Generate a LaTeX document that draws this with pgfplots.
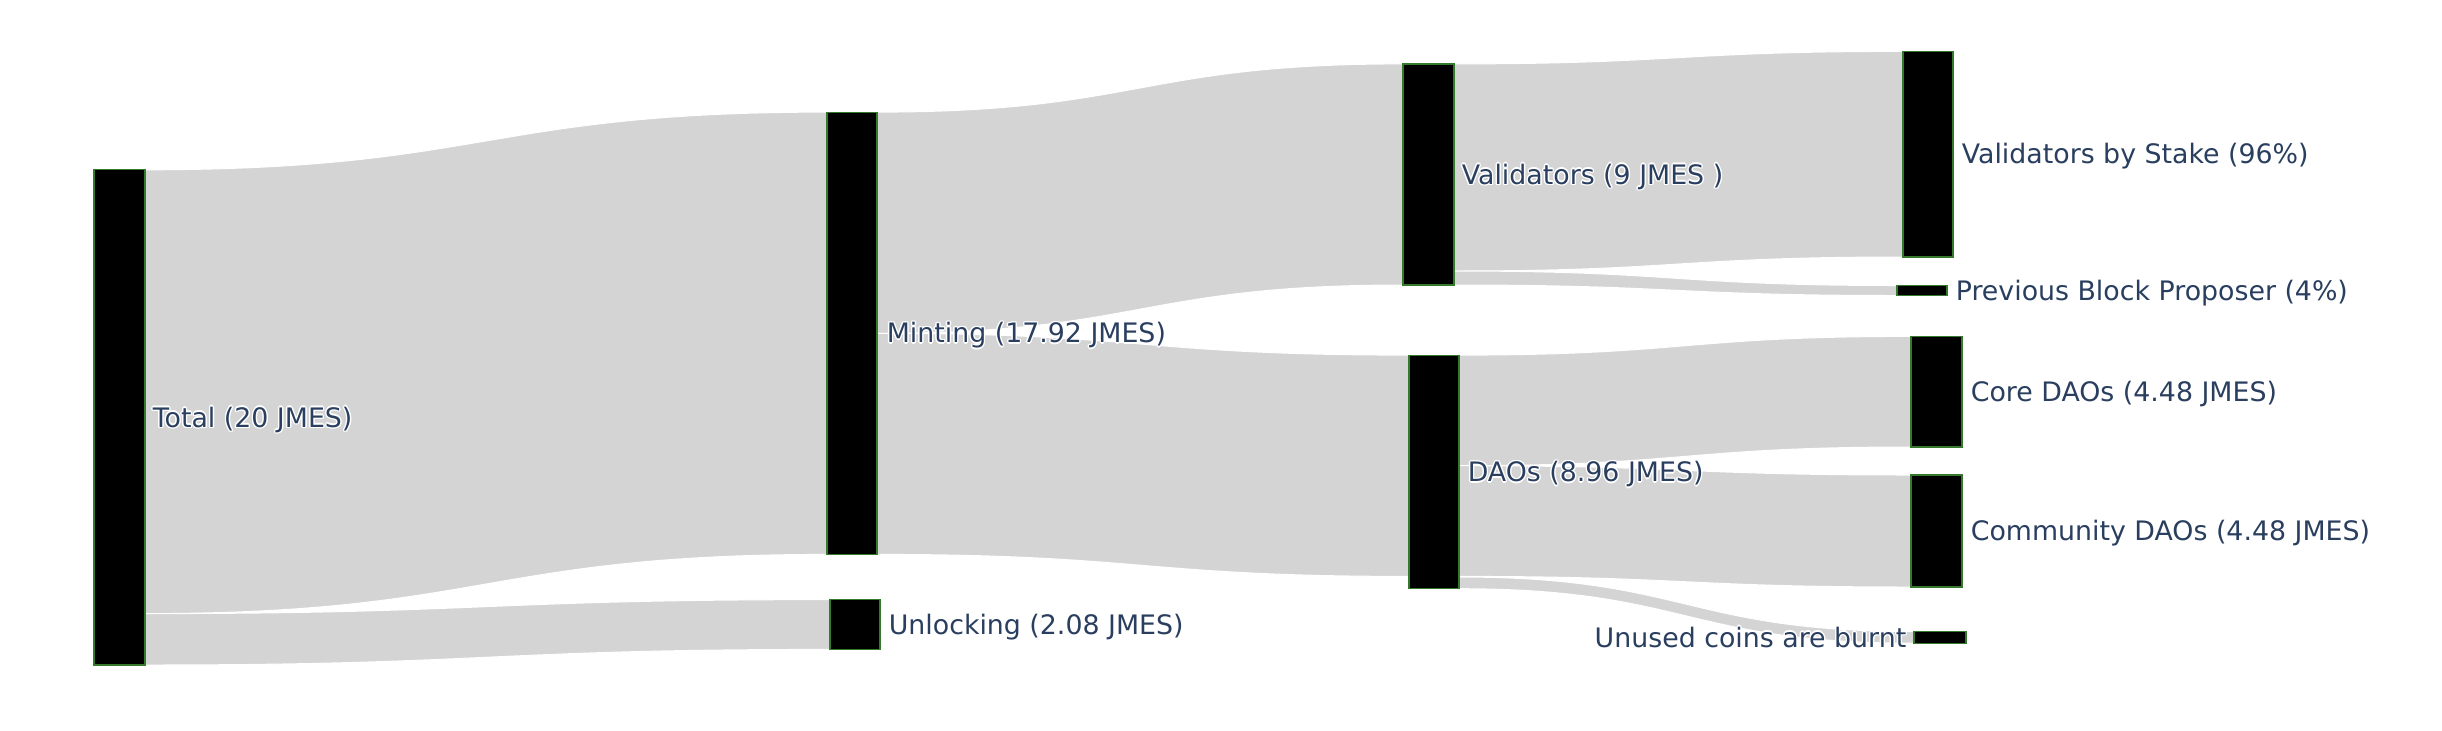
\documentclass[border=0pt]{standalone}
\usepackage{pgfplots}
\pgfplotsset{compat=1.18}
\usepackage{fontspec}
\setmainfont{DejaVu Sans}
\definecolor{linkc}{HTML}{D4D4D4}
\definecolor{txtc}{HTML}{2A3F5F}
\definecolor{nodeline}{HTML}{357A2C}
\tikzset{lbl/.style={font=\fontsize{6.7}{8}\selectfont, inner sep=0pt, text height=4.88pt, text depth=0pt}}
% halo text
\newcommand\hl[3]{\makebox[0pt][l]{\hspace{#1}\raisebox{#2}{\color{white}#3}}}
\newcommand\halo[1]{\hl{0.35pt}{0pt}{#1}\hl{-0.35pt}{0pt}{#1}\hl{0pt}{0.35pt}{#1}\hl{0pt}{-0.35pt}{#1}\hl{0.25pt}{0.25pt}{#1}\hl{-0.25pt}{0.25pt}{#1}\hl{0.25pt}{-0.25pt}{#1}\hl{-0.25pt}{-0.25pt}{#1}{\color{txtc}#1}}
% link: x0, top0, bot0, xmid, x1, top1, bot1
\newcommand\link[7]{%
 \fill[linkc, draw=white, line width=0.25pt] (axis cs:#1,#2) .. controls (axis cs:#4,#2) and (axis cs:#4,#6) .. (axis cs:#5,#6) -- (axis cs:#5,#7) .. controls (axis cs:#4,#7) and (axis cs:#4,#3) .. (axis cs:#1,#3) -- cycle;}
\begin{document}
\begin{tikzpicture}
\begin{axis}[
  scale only axis, width=610.5pt, height=182.5pt,
  xmin=0, xmax=2442, ymin=0, ymax=730, y dir=reverse,
  hide axis, clip=false,
]
\path (rel axis cs:0,0) rectangle (rel axis cs:1,1);
% links
\link{145}{169.8}{613.6}{486}{827}{112.1}{554.4}
\link{145}{613.6}{665.0}{487.5}{830}{599.6}{649.4}
\link{877}{112.1}{333.3}{1140}{1403}{63.9}{285.0}
\link{877}{333.3}{554.4}{1143}{1409}{355.1}{576.4}
\link{1454}{63.9}{271.0}{1678.5}{1903}{51.4}{257.0}
\link{1454}{271.0}{285.0}{1675.5}{1897}{285.5}{295.5}
\link{1459}{355.1}{465.7}{1685}{1911}{336.4}{447.0}
\link{1459}{465.7}{576.4}{1685}{1911}{475.0}{587.0}
\link{1459}{577.0}{588.7}{1686.5}{1914}{631.5}{643.2}
% nodes
\addplot[fill=black, draw=nodeline, line width=0.3pt, mark=none] coordinates {(94,169.8) (145,169.8) (145,665.0) (94,665.0)} -- cycle;
\addplot[fill=black, draw=nodeline, line width=0.3pt, mark=none] coordinates {(827,112.1) (877,112.1) (877,554.4) (827,554.4)} -- cycle;
\addplot[fill=black, draw=nodeline, line width=0.3pt, mark=none] coordinates {(830,599.6) (880,599.6) (880,649.4) (830,649.4)} -- cycle;
\addplot[fill=black, draw=nodeline, line width=0.3pt, mark=none] coordinates {(1403,63.9) (1454,63.9) (1454,285.0) (1403,285.0)} -- cycle;
\addplot[fill=black, draw=nodeline, line width=0.3pt, mark=none] coordinates {(1409,355.1) (1459,355.1) (1459,588.7) (1409,588.7)} -- cycle;
\addplot[fill=black, draw=nodeline, line width=0.3pt, mark=none] coordinates {(1903,51.4) (1953,51.4) (1953,257.0) (1903,257.0)} -- cycle;
\addplot[fill=black, draw=nodeline, line width=0.3pt, mark=none] coordinates {(1897,285.5) (1947,285.5) (1947,295.5) (1897,295.5)} -- cycle;
\addplot[fill=black, draw=nodeline, line width=0.3pt, mark=none] coordinates {(1911,336.4) (1962,336.4) (1962,447.0) (1911,447.0)} -- cycle;
\addplot[fill=black, draw=nodeline, line width=0.3pt, mark=none] coordinates {(1911,475.0) (1962,475.0) (1962,587.0) (1911,587.0)} -- cycle;
\addplot[fill=black, draw=nodeline, line width=0.3pt, mark=none] coordinates {(1914,631.5) (1966,631.5) (1966,643.2) (1914,643.2)} -- cycle;
% labels
\node[lbl, anchor=west] at (axis cs:152,417.4) {\halo{Total (20 JMES)}};
\node[lbl, anchor=west] at (axis cs:886,333.2) {\halo{Minting (17.92 JMES)}};
\node[lbl, anchor=west] at (axis cs:888,624.5) {\halo{Unlocking (2.08 JMES)}};
\node[lbl, anchor=west] at (axis cs:1461,174.5) {\halo{Validators (9 JMES )}};
\node[lbl, anchor=west] at (axis cs:1467,472) {\halo{DAOs (8.96 JMES)}};
\node[lbl, anchor=west] at (axis cs:1961,154.2) {\halo{Validators by Stake (96\%)}};
\node[lbl, anchor=west] at (axis cs:1955,290.5) {\halo{Previous Block Proposer (4\%)}};
\node[lbl, anchor=west] at (axis cs:1970,391.7) {\halo{Core DAOs (4.48 JMES)}};
\node[lbl, anchor=west] at (axis cs:1970,531) {\halo{Community DAOs (4.48 JMES)}};
\node[lbl, anchor=east] at (axis cs:1907,637.5) {\halo{Unused coins are burnt}};
\end{axis}
\end{tikzpicture}
\end{document}
